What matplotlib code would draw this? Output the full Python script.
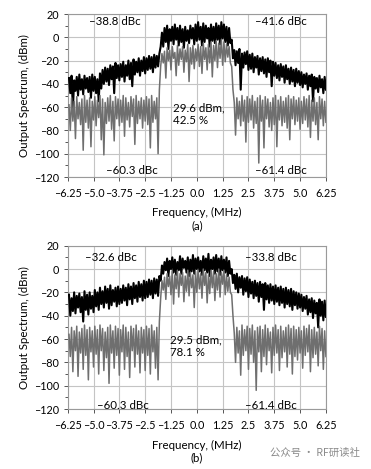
import numpy as np
import matplotlib
matplotlib.use("Agg")
import matplotlib.pyplot as plt

# ==========================
# axis ticks
# ==========================
freq_ticks = [-6.25, -5.0, -3.75, -2.5, -1.25, 0.0, 1.25, 2.5, 3.75, 5.0, 6.25]
freq_labels = ["–6.25", "–5.0", "–3.75", "–2.5", "–1.25", "0.0", "1.25", "2.5", "3.75", "5.0", "6.25"]
dbm_ticks = [-120, -100, -80, -60, -40, -20, 0, 20]
dbm_labels = ["–120", "–100", "–80", "–60", "–40", "–20", "0", "20"]

# spectra: peaks on a 0.125 MHz grid starting at -6.1875,
# valleys halfway between consecutive peaks
F_START = -6.1875
F_STEP = 0.125

# ---- (a) ----
a_black_hi = [-35, -33, -37, -34, -32, -36, -33, -35, -34, -32,
              -34, -36, -31, -28, -26, -27, -24, -25, -22, -24,
              -23, -21, -24, -20, -22, -19, -21, -18, -20, -17,
              -18, -16, -17, -15, -16,
              -14,
              4, 8, 10, 7, 9, 11, 8, 10, 7, 9, 6, 10, 8, 11,
              13, 9, 12, 10, 8, 11, 9, 12, 10, 13, 11, 9, 8,
              -2,
              -11, -12, -10, -14, -13, -12,
              -15, -14, -17, -16, -18, -17, -19, -18, -20, -21,
              -22, -24, -23, -25, -24, -27, -26, -28, -27, -29,
              -30, -32, -31, -33, -32, -34, -35, -33, -36, -34]
a_black_lo = [-48, -62, -46, -50, -45, -49, -44, -47, -52, -46,
              -48, -55, -44, -40, -38, -41, -36, -48, -35, -37,
              -34, -38, -33, -36, -42, -32, -30, -33, -29, -31,
              -28, -27, -30, -26, -25,
              -8,
              -8, -4, -10, -3, -6, -2, -7, -4, -9, -3, -5, -1, -6, -3,
              -2, -7, -4, -1, -8, -3, -5, -2, -6, -1, -4, -7, -5,
              -18,
              -24, -22, -45, -26, -23, -28,
              -27, -30, -26, -32, -29, -31, -34, -30, -42, -33,
              -35, -37, -34, -39, -36, -40, -38, -42, -39, -41,
              -43, -40, -45, -42, -55, -44, -47, -43, -48, -45]
a_gray_hi = [-58, -52, -55, -51, -56, -53, -50, -54, -52, -55,
             -51, -54, -50, -53, -56, -52, -50, -55, -51, -53,
             -54, -50, -52, -56, -51, -53, -50, -55, -52, -54,
             -51, -53, -50, -55, -52,
             -45,
             -14, -12, -9, -11, -8, -13, -7, -10, -8, -11, -6, -9, -7, -10,
             -6, -8, -5, -9, -6, -4, -7, -3, -5, -2, -4, -6, -8,
             -25,
             -56, -52, -55, -50, -54, -51,
             -53, -50, -55, -52, -50, -54, -51, -53, -56, -52,
             -50, -54, -51, -55, -52, -50, -53, -51, -54, -52,
             -55, -51, -53, -50, -54, -52, -56, -51, -53, -55]
a_gray_lo = [-80, -72, -87, -70, -75, -97, -73, -78, -94, -71,
             -76, -69, -88, -101, -74, -72, -79, -89, -70, -76,
             -73, -85, -71, -77, -68, -92, -74, -70, -78, -72,
             -75, -95, -73, -70, -100,
             -25,
             -22, -35, -20, -28, -18, -33, -24, -19, -30, -21, -38, -23, -27, -20,
             -25, -31, -19, -28, -22, -34, -20, -26, -18, -24, -21, -17, -22,
             -45,
             -84, -70, -76, -72, -90, -73,
             -71, -78, -74, -108, -72, -95, -70, -77, -80, -75,
             -94, -71, -76, -73, -78, -88, -70, -75, -72, -79,
             -74, -71, -77, -86, -72, -75, -88, -70, -76, -73]

# ---- (b) ----
b_black_hi = [-22, -25, -20, -23, -21, -24, -19, -22, -20, -23,
              -18, -20, -16, -19, -15, -17, -14, -18, -16, -15,
              -17, -14, -16, -13, -15, -12, -14, -11, -13, -10,
              -11, -9, -10, -8, -9,
              -6,
              3, 6, 9, 7, 10, 8, 6, 11, 9, 7, 10, 8, 12, 9,
              10, 7, 11, 9, 13, 8, 10, 12, 9, 11, 8, 10, 7,
              0,
              -5, -4, -7, -6, -8, -7,
              -9, -11, -10, -12, -11, -13, -12, -14, -13, -15,
              -14, -16, -15, -17, -16, -18, -17, -19, -20, -21,
              -22, -24, -23, -26, -25, -27, -29, -26, -28, -27]
b_black_lo = [-40, -36, -38, -33, -37, -45, -35, -39, -34, -37,
              -32, -35, -30, -33, -29, -34, -31, -28, -32, -30,
              -29, -27, -31, -26, -30, -25, -28, -24, -27, -25,
              -24, -22, -25, -21, -23,
              -10,
              -4, -1, -6, 0, -3, -5, -1, -4, 1, -3, -6, -2, -4, 0,
              -2, -5, -1, -3, -6, 0, -4, -2, -5, -1, -3, -6, -4,
              -12,
              -17, -20, -16, -22, -19, -24,
              -21, -25, -23, -28, -24, -35, -26, -29, -27, -30,
              -28, -31, -29, -33, -30, -32, -35, -31, -34, -33,
              -36, -34, -39, -37, -42, -38, -50, -40, -44, -41]
b_gray_hi = [-56, -50, -53, -49, -54, -51, -48, -52, -50, -53,
             -49, -52, -48, -51, -54, -50, -48, -53, -49, -51,
             -52, -48, -50, -54, -49, -51, -48, -53, -50, -52,
             -49, -51, -48, -53, -50,
             -45,
             -10, -7, -4, -6, -2, -5, -1, -4, -3, -6, -1, -3, -5, -2,
             -1, -4, 0, -3, -5, -1, -2, -4, 0, -3, -1, -5, -7,
             -22,
             -55, -50, -53, -48, -52, -49,
             -51, -48, -53, -50, -49, -52, -48, -51, -54, -50,
             -48, -52, -49, -53, -50, -48, -51, -49, -52, -50,
             -53, -49, -51, -48, -52, -50, -54, -49, -51, -53]
b_gray_lo = [-75, -88, -70, -92, -72, -86, -74, -95, -71, -84,
             -73, -90, -70, -87, -76, -98, -72, -85, -74, -91,
             -71, -86, -75, -93, -70, -84, -73, -89, -72, -87,
             -74, -90, -71, -85, -95,
             -25,
             -18, -26, -15, -22, -30, -17, -24, -14, -28, -19, -23, -16, -33, -20,
             -17, -25, -14, -29, -21, -16, -27, -18, -24, -13, -22, -19, -20,
             -40,
             -80, -72, -91, -74, -70, -86,
             -73, -80, -104, -71, -88, -75, -82, -70, -89, -74,
             -72, -87, -76, -71, -84, -73, -90, -75, -78, -72,
             -85, -74, -71, -88, -76, -73, -83, -70, -86, -75]

# annotations: (x, y, text)
a_notes = [(-5.2, 14, "–38.8 dBc"), (2.8, 14, "–41.6 dBc"),
           (-1.15, -66, "29.6 dBm,\n42.5 %"),
           (-4.4, -114, "–60.3 dBc"), (2.8, -114, "–61.4 dBc")]
b_notes = [(-5.4, 10, "–32.6 dBc"), (2.35, 10, "–33.8 dBc"),
           (-1.3, -66, "29.5 dBm,\n78.1 %"),
           (-4.85, -117, "–60.3 dBc"), (2.35, -117, "–61.4 dBc")]

FONT = ["Lato", "DejaVu Sans"]
CJK = ["Noto Sans CJK SC", "DejaVu Sans"]


def zigzag(hi, lo):
    n = len(hi)
    f_hi = F_START + F_STEP * np.arange(n)
    f = np.empty(2 * n)
    y = np.empty(2 * n)
    f[0::2] = f_hi
    f[1::2] = f_hi + F_STEP / 2
    y[0::2] = hi
    y[1::2] = lo
    return f, y


def draw_panel(ax, black_hi, black_lo, gray_hi, gray_lo, notes, tag):
    fb, yb = zigzag(black_hi, black_lo)
    fg, yg = zigzag(gray_hi, gray_lo)
    ax.plot(fb, yb, color="black", lw=1.5, zorder=3)
    ax.plot(fg, yg, color="#6f6f6f", lw=1.1, zorder=4)

    ax.set_xlim(-6.25, 6.25)
    ax.set_ylim(-120, 20)
    ax.set_xticks(freq_ticks)
    ax.set_xticklabels(freq_labels, family=FONT, fontsize=7.8)
    ax.set_yticks(dbm_ticks)
    ax.set_yticklabels(dbm_labels, family=FONT, fontsize=7.8)
    ax.set_yticks(np.arange(-110, 20, 20), minor=True)
    ax.tick_params(axis="both", which="both", direction="out", length=3,
                   width=0.7, color="#555555")
    ax.tick_params(axis="x", pad=5)
    ax.tick_params(axis="y", pad=3)
    ax.tick_params(axis="y", which="minor", length=2.5)
    ax.grid(True, which="major", color="#c4c4c4", lw=0.8, zorder=0)
    for s in ax.spines.values():
        s.set_color("#9a9a9a")
        s.set_linewidth(0.8)

    ax.set_ylabel("Output Spectrum, (dBm)", family=FONT, fontsize=8.3, labelpad=3)
    ax.set_xlabel("Frequency, (MHz)\n(" + tag + ")", family=FONT, fontsize=8.3,
                  labelpad=6, linespacing=1.2)

    for x, y, t in notes:
        ax.text(x, y, t, family=FONT, fontsize=8.3, va="center", ha="left",
                linespacing=1.2, zorder=5)


fig = plt.figure(figsize=(3.71, 4.69), dpi=100)
ax_a = fig.add_axes([0.1825, 0.6226, 0.696, 0.3475])
ax_b = fig.add_axes([0.1825, 0.1279, 0.696, 0.3482])

draw_panel(ax_a, a_black_hi, a_black_lo, a_gray_hi, a_gray_lo, a_notes, "a")
draw_panel(ax_b, b_black_hi, b_black_lo, b_gray_hi, b_gray_lo, b_notes, "b")

fig.text(0.97, 0.035, "公众号 · RF研读社", family=CJK, fontsize=7.5,
         color="#8a8a8a", ha="right", va="center")

fig.savefig("out.png", dpi=100)
